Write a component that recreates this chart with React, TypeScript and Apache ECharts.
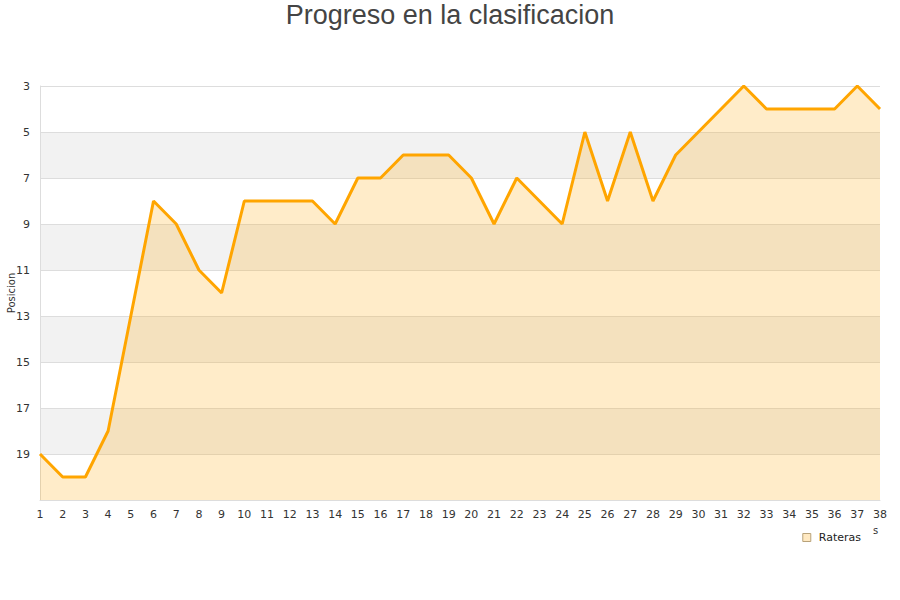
import React, { useEffect, useRef } from "react";
import * as echarts from "echarts";

const jornadas: string[] = Array.from({ length: 38 }, (_, i) => String(i + 1));
const posiciones: number[] = [
  19, 20, 20, 18, 13, 8, 9, 11, 12, 8,
  8, 8, 8, 9, 7, 7, 6, 6, 6, 7,
  9, 7, 8, 9, 5, 8, 5, 8, 6, 5,
  4, 3, 4, 4, 4, 4, 3, 4,
];
const seriesName = "Rateras";
const titleText = "Progreso en la clasificacion";
const yName = "Posicion";

export default function App() {
  const ref = useRef<HTMLDivElement>(null);
  useEffect(() => {
    const chart = echarts.init(ref.current!, null, { renderer: "svg" });
    chart.setOption({
      animation: false,
      title: {
        text: titleText,
        left: "center",
        top: -4,
        textStyle: {
          fontFamily: "Liberation Sans Narrow, Liberation Sans, Arial",
          fontSize: 27,
          fontWeight: "normal",
          color: "#444",
        },
      },
      legend: {
        data: [
          {
            name: seriesName,
            icon: "rect",
            itemStyle: { color: "#ffe9c2", borderColor: "#b8a27a", borderWidth: 1 },
          },
        ],
        right: 34,
        top: 527,
        itemWidth: 8,
        itemHeight: 8,
        itemGap: 8,
        textStyle: { fontSize: 11, color: "#222", fontFamily: "DejaVu Sans", padding: [0, 0, 0, 3] },
      },
      graphic: [
        {
          type: "text",
          left: 873,
          top: 525,
          style: { text: "s", fontSize: 10, fill: "#333", fontFamily: "DejaVu Sans" },
        },
      ],
      grid: { left: 40, right: 20, top: 86, bottom: 100, containLabel: false, outerBoundsMode: "none" },
      xAxis: {
        type: "category",
        data: jornadas,
        boundaryGap: false,
        axisLine: { show: true, lineStyle: { color: "#ddd" } },
        axisTick: { show: false },
        axisLabel: {
          color: "#333",
          fontSize: 11,
          fontFamily: "DejaVu Sans",
          margin: 9,
          interval: 0,
        },
        splitLine: { show: false },
      },
      yAxis: {
        type: "value",
        inverse: true,
        min: 3,
        max: 21,
        interval: 2,
        name: yName,
        nameLocation: "middle",
        nameGap: 24,
        nameMoveOverlap: false,
        nameTextStyle: { fontSize: 10, color: "#333", fontFamily: "DejaVu Sans" },
        axisLine: { show: true, lineStyle: { color: "#ddd" } },
        axisTick: { show: false },
        axisLabel: {
          color: "#333",
          fontSize: 11,
          fontFamily: "DejaVu Sans",
          margin: 10,
          formatter: (v: number) => (v >= 21 ? "" : String(v)),
        },
        splitLine: { show: true, lineStyle: { color: "#ddd" } },
        splitArea: { show: true, areaStyle: { color: ["#ffffff", "#f2f2f2"] } },
      },
      series: [
        {
          name: seriesName,
          type: "line",
          data: posiciones,
          showSymbol: false,
          symbol: "none",
          lineStyle: { color: "#FFA500", width: 3 },
          itemStyle: { color: "#FFA500" },
          areaStyle: { color: "#FFA500", opacity: 0.21, origin: "end" },
        },
      ],
    });
    return () => chart.dispose();
  }, []);
  return <div ref={ref} style={{ width: 900, height: 600, position: "absolute", left: 0, top: 0 }} />;
}
